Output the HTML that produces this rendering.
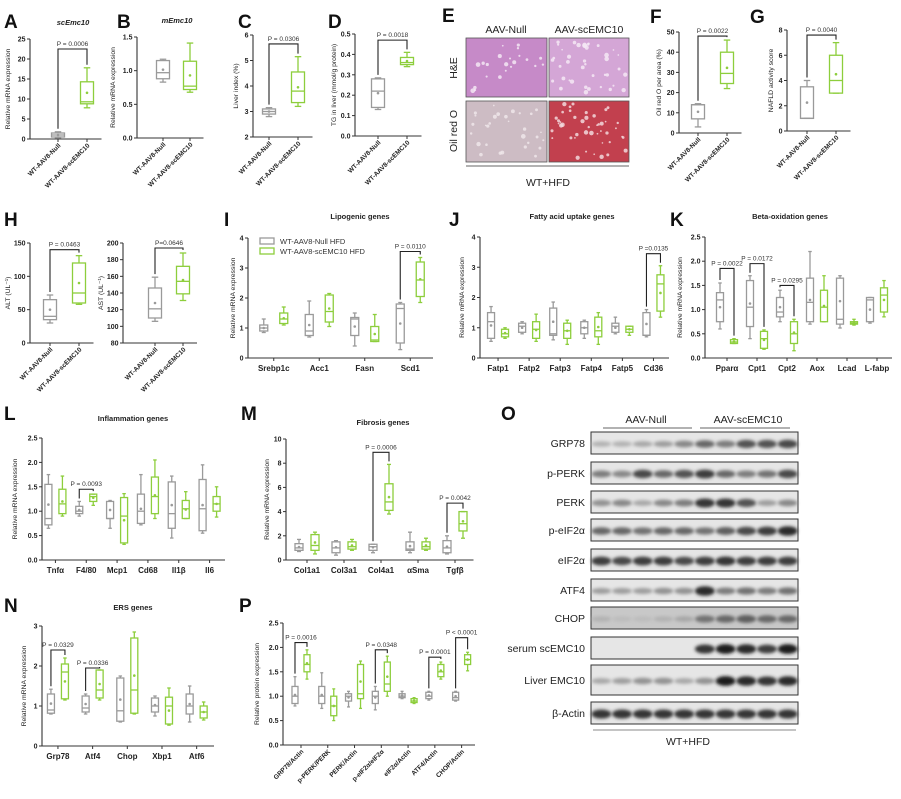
<!DOCTYPE html>
<html><head><meta charset="utf-8">
<style>
html,body{margin:0;padding:0;background:#fff;}
svg{display:block;font-family:"Liberation Sans",Arial,sans-serif;}
</style></head>
<body>
<svg id="fig" width="901" height="799" viewBox="0 0 901 799" xmlns="http://www.w3.org/2000/svg">
<defs>
<filter id="blur1" x="-20%" y="-50%" width="140%" height="200%"><feGaussianBlur stdDeviation="1.6"/></filter>
<filter id="blur0"><feGaussianBlur stdDeviation="0.6"/></filter>
</defs>
<g id="letters" font-weight="bold" font-size="19" fill="#111">
<text x="4" y="28">A</text>
<text x="117" y="28">B</text>
<text x="238" y="28">C</text>
<text x="328" y="28">D</text>
<text x="442" y="22">E</text>
<text x="650" y="23">F</text>
<text x="750" y="23">G</text>
<text x="4" y="226">H</text>
<text x="224" y="226">I</text>
<text x="449" y="226">J</text>
<text x="670" y="226">K</text>
<text x="4" y="420">L</text>
<text x="241" y="420">M</text>
<text x="501" y="420">O</text>
<text x="4" y="612">N</text>
<text x="239" y="612">P</text>
</g>
<g id="histo">
<text x="506" y="33" font-size="10.5" text-anchor="middle" fill="#222">AAV-Null</text>
<text x="589" y="33" font-size="10.5" text-anchor="middle" fill="#222">AAV-scEMC10</text>
<text transform="translate(457,68) rotate(-90)" font-size="10.5" text-anchor="middle" fill="#222">H&amp;E</text>
<text transform="translate(457,131) rotate(-90)" font-size="10.5" text-anchor="middle" fill="#222">Oil red O</text>
<rect x="466" y="38" width="81" height="59" fill="#c68ac8" stroke="#555" stroke-width="0.8"/>
<rect x="549" y="38" width="80" height="59" fill="#d4a6d6" stroke="#555" stroke-width="0.8"/>
<rect x="466" y="101" width="81" height="61" fill="#cdbcc4" stroke="#555" stroke-width="0.8"/>
<rect x="549" y="101" width="80" height="61" fill="#c2404e" stroke="#555" stroke-width="0.8"/>
<g id="tex"></g>
<line x1="466" y1="166" x2="629" y2="166" stroke="#999" stroke-width="1.5"/>
<text x="548" y="186" font-size="10.5" text-anchor="middle" fill="#222">WT+HFD</text>
</g>
<g id="charts"></g>
<g id="blot"></g>
</svg>
<script>
// ---------- chart data (5-number summaries: min, q1, median, q3, max) ----------
const twoGroupCats = ['WT-AAV8-Null','WT-AAV8-scEMC10'];
const aNull = [[0.3,0.5,1.0,1.5,1.8]];
const aEmc  = [[7.8,8.8,9.3,14.3,17.8]];
const bNull = [[0.83,0.88,0.97,1.15,1.17]];
const bEmc  = [[0.68,0.72,0.77,1.14,1.41]];
const cNull = [[2.8,2.9,3.0,3.1,3.15]];
const cEmc  = [[3.2,3.35,3.8,4.55,5.15]];
const dNull = [[0.13,0.14,0.22,0.28,0.285]];
const dEmc  = [[0.34,0.35,0.36,0.385,0.41]];
const fNull = [[3,7,14,14,14.5]];
const fEmc  = [[22,24.5,29.5,40,46]];
const gNull = [[1,1,1,3.5,4]];
const gEmc  = [[3,3,4,6,7]];
const altNull = [[30,35,40,65,72]];
const altEmc  = [[58,60,75,120,131]];
const astNull = [[106,110,121,146,159]];
const astEmc  = [[131,139,154,172,188]];

const iCats = ['Srebp1c','Acc1','Fasn','Scd1'];
const iNull = [[0.85,0.9,1.0,1.1,1.3],[0.7,0.75,0.9,1.45,1.9],[0.4,0.75,1.3,1.35,1.5],[0.28,0.5,1.65,1.8,1.85]];
const iEmc  = [[1.1,1.15,1.3,1.5,1.7],[1.05,1.2,1.55,2.1,2.15],[0.55,0.55,0.6,1.05,1.45],[1.85,2.05,2.6,3.2,3.35]];
const jCats = ['Fatp1','Fatp2','Fatp3','Fatp4','Fatp5','Cd36'];
const jNull = [[0.55,0.65,1.2,1.5,1.7],[0.8,0.85,1.05,1.15,1.2],[0.6,0.75,0.8,1.65,1.85],[0.65,0.8,1.0,1.2,1.25],[0.8,0.85,1.05,1.15,1.35],[0.7,0.75,0.75,1.5,1.6]];
const jEmc  = [[0.65,0.7,0.8,0.95,1.0],[0.55,0.65,0.95,1.2,1.45],[0.45,0.65,0.9,1.15,1.25],[0.45,0.7,0.9,1.35,1.5],[0.75,0.85,0.95,1.05,1.05],[1.35,1.55,2.45,2.75,3.05]];
const kCats = ['Pparα','Cpt1','Cpt2','Aox','Lcad','L-fabp'];
const kNull = [[0.6,0.75,1.2,1.35,1.55],[0.4,0.65,1.05,1.6,1.7],[0.75,0.85,0.95,1.25,1.4],[0.7,0.75,1.15,1.65,2.2],[0.62,0.7,0.8,1.65,1.7],[0.72,0.75,1.2,1.25,1.25]];
const kEmc  = [[0.3,0.3,0.33,0.38,0.4],[0.18,0.2,0.4,0.55,0.58],[0.15,0.3,0.5,0.75,0.8],[0.75,0.75,1.05,1.4,1.7],[0.68,0.7,0.72,0.75,0.8],[0.85,0.95,1.3,1.45,1.6]];
const lCats = ['Tnfα','F4/80','Mcp1','Cd68','Il1β','Il6'];
const lNull = [[0.65,0.72,0.85,1.55,1.75],[0.9,0.95,1.0,1.1,1.2],[0.65,0.85,0.85,1.2,1.22],[0.72,0.75,1.0,1.35,1.75],[0.45,0.65,0.95,1.6,1.72],[0.55,0.6,1.05,1.65,1.95]];
const lEmc  = [[0.9,0.95,1.15,1.45,1.72],[1.12,1.2,1.3,1.35,1.35],[0.32,0.35,0.9,1.28,1.36],[0.85,0.95,1.3,1.7,2.05],[0.85,0.85,1.05,1.22,1.4],[0.88,1.0,1.15,1.3,1.5]];
const mCats = ['Col1a1','Col3a1','Col4a1','αSma','Tgfβ'];
const mNull = [[0.7,0.8,1.0,1.35,1.7],[0.4,0.6,1.0,1.5,1.6],[0.6,0.8,1.1,1.3,1.3],[0.6,0.8,0.9,1.5,2.3],[0.5,0.6,1.0,1.6,2.0]];
const mEmc  = [[0.5,0.8,1.2,2.1,2.3],[0.8,0.9,1.1,1.5,1.7],[3.8,4.1,4.8,6.3,7.9],[0.8,0.9,1.1,1.5,1.8],[1.8,2.4,3.0,4.0,4.0]];
const nCats = ['Grp78','Atf4','Chop','Xbp1','Atf6'];
const nNull = [[0.8,0.82,0.9,1.3,1.42],[0.8,0.85,0.95,1.25,1.3],[0.6,0.62,0.88,1.7,1.75],[0.75,0.85,1.0,1.2,1.25],[0.6,0.8,1.0,1.3,1.5]];
const nEmc  = [[1.15,1.18,1.85,2.05,2.2],[1.15,1.2,1.4,1.9,1.9],[0.8,0.82,1.4,2.7,2.85],[0.52,0.55,1.0,1.22,1.45],[0.65,0.7,0.85,1.0,1.1]];
const pCats = ['GRP78/Actin','p-PERK/PERK','PERK/Actin','p-eIF2α/eIF2α','eIF2α/Actin','ATF4/Actin','CHOP/Actin'];
const pNull = [[0.8,0.85,1.0,1.2,1.4],[0.75,0.85,1.0,1.2,1.48],[0.78,0.9,1.0,1.05,1.1],[0.72,0.85,1.0,1.1,1.2],[0.95,0.97,1.0,1.05,1.1],[0.92,0.95,1.0,1.08,1.1],[0.9,0.92,0.97,1.08,1.1]];
const pEmc  = [[1.35,1.5,1.65,1.85,1.95],[0.5,0.6,0.8,1.0,1.15],[0.75,0.95,1.05,1.65,1.72],[1.0,1.1,1.25,1.7,1.82],[0.85,0.87,0.9,0.95,0.97],[1.35,1.4,1.5,1.65,1.7],[1.52,1.65,1.75,1.85,1.9]];

// tick labels
const aTicks=[0,5,10,15,20,25], bTicks=[0.0,0.5,1.0,1.5], cTicks=[2,3,4,5,6], dTicks=[0.0,0.1,0.2,0.3,0.4,0.5];
const fTicks=[0,10,20,30,40,50], gTicks=[0,2,4,6,8], altTicks=[0,50,100,150], astTicks=[80,100,120,140,160,180,200];
const ijTicks=[0,1,2,3,4], kTicks=[0.0,0.5,1.0,1.5,2.0,2.5], mTicks=[0,2,4,6,8,10], nTicks=[0,1,2,3];

const GRAY='#9a9a9a', GREEN='#8dce3c';
const NS='http://www.w3.org/2000/svg';
const root=document.getElementById('charts');
function mk(tag,attrs,parent){const e=document.createElementNS(NS,tag);for(const k in attrs)e.setAttribute(k,attrs[k]);(parent||root).appendChild(e);return e;}
function txt(s,attrs,parent){const e=mk('text',attrs,parent);e.textContent=s;return e;}

function panel(c){
  const g=mk('g',{});
  
  
  const yMin=c.ticks[0], yMax=c.ticks[c.ticks.length-1];
  const y=v=>c.yBot-(v-yMin)/(yMax-yMin)*(c.yBot-c.yTop);
  const n=c.cats.length, step=(c.xEnd-c.xStart)/n;
  const cx=i=>c.xStart+(i+0.5)*step;
  // axes
  const ya=mk('line',{x1:c.ax,y1:c.yTop,x2:c.ax,y2:c.yBot+0.5,stroke:'#333','stroke-width':1.1},g);
  
  
  const xa=mk('line',{x1:c.ax,y1:c.yBot,x2:c.xEnd,y2:c.yBot,stroke:'#333','stroke-width':1.1},g);
  
  
  c.ticks.forEach(t=>{
    mk('line',{x1:c.ax-3,y1:y(t),x2:c.ax,y2:y(t),stroke:'#333','stroke-width':1},g);
    const tl=txt(c.dec!=null?t.toFixed(c.dec):String(t),{x:c.ax-4.5,y:y(t)+2.5,'font-size':7,'font-weight':'bold','text-anchor':'end',fill:'#222'},g);
    
    
  });
  const mid=(c.yTop+c.yBot)/2;
  const yt=txt(c.ytitle,{transform:`translate(${c.ax-(c.ytOff||20)},${mid}) rotate(-90)`,'font-size':6.8,'text-anchor':'middle',fill:'#222'},g);
  
  
  if(c.title){
    const tt=txt(c.title,{x:c.titleX,y:c.titleY,'font-size':7.5,'font-weight':'bold','font-style':c.italic?'italic':'normal','text-anchor':'middle',fill:'#222'},g);
    
    
  }
  c.cats.forEach((cat,i)=>{
    mk('line',{x1:cx(i),y1:c.yBot,x2:cx(i),y2:c.yBot+3,stroke:'#333','stroke-width':1},g);
    let l;
    if(c.rot){
      l=txt(cat,{transform:`translate(${cx(i)+3},${c.yBot+7}) rotate(-45)`,'font-size':6.5,'font-weight':'bold','text-anchor':'end',fill:'#222'},g);
    } else {
      l=txt(cat,{x:cx(i),y:c.yBot+13,'font-size':8,'font-weight':'bold','text-anchor':'middle',fill:'#222'},g);
    }
    
    
  });
  const two=c.two;
  const bw=c.bw||8, off=c.off||8;
  const pos=(i,s)=> two ? cx(s) : cx(i)+(s?off:-off);
  function box(d,x,col){
    const bg=mk('g',{},g);
    
    
    const sw=1.3;
    mk('line',{x1:x,y1:y(d[4]),x2:x,y2:y(d[3]),stroke:col,'stroke-width':sw},bg);
    mk('line',{x1:x,y1:y(d[1]),x2:x,y2:y(d[0]),stroke:col,'stroke-width':sw},bg);
    mk('line',{x1:x-bw/4,y1:y(d[4]),x2:x+bw/4,y2:y(d[4]),stroke:col,'stroke-width':sw},bg);
    mk('line',{x1:x-bw/4,y1:y(d[0]),x2:x+bw/4,y2:y(d[0]),stroke:col,'stroke-width':sw},bg);
    mk('rect',{x:x-bw/2,y:y(d[3]),width:bw,height:Math.max(0.5,y(d[1])-y(d[3])),fill:'none',stroke:col,'stroke-width':sw},bg);
    mk('line',{x1:x-bw/2,y1:y(d[2]),x2:x+bw/2,y2:y(d[2]),stroke:col,'stroke-width':sw},bg);
    const m=(d[1]+d[3])/2;
    mk('circle',{cx:x,cy:y(m),r:1.3,fill:col},bg);
  }
  c.nul.forEach((d,i)=>box(d,pos(i,0),GRAY));
  c.emc.forEach((d,i)=>box(d,pos(i,1),GREEN));
  (c.sig||[]).forEach(s=>{
    const i=s[0], lvl=s[1], label=s[2];
    const x0=two?cx(0):pos(i,0), x1=two?cx(1):pos(i,1);
    const nd=two?c.nul[0]:c.nul[i], ed=two?c.emc[0]:c.emc[i];
    const bg=mk('g',{},g);
    
    
    mk('polyline',{points:`${x0},${y(nd[4])-3} ${x0},${y(lvl)} ${x1},${y(lvl)} ${x1},${y(ed[4])-3}`,fill:'none',stroke:'#222','stroke-width':1.1},bg);
    txt(label,{x:(x0+x1)/2,y:y(lvl)-3,'font-size':6.5,'text-anchor':'middle',fill:'#333'},bg);
  });
  return g;
}

const R={rot:true,two:true,bw:13};
panel(Object.assign({},R,{name:'chart-a-scemc10',cats:twoGroupCats,nul:aNull,emc:aEmc,ticks:aTicks,ax:30,yTop:39,yBot:139,xStart:43.5,xEnd:101.5,ytitle:'Relative  mRNA expression',title:'scEmc10',italic:true,titleX:73,titleY:25,sig:[[0,22.5,'P = 0.0006']]}));
panel(Object.assign({},R,{name:'chart-b-memc10',cats:twoGroupCats,nul:bNull,emc:bEmc,ticks:bTicks,dec:1,ax:137,yTop:37,yBot:138,xStart:149.5,xEnd:203.5,ytitle:'Relative  mRNA expression',ytOff:22,title:'mEmc10',italic:true,titleX:177,titleY:23}));
panel(Object.assign({},R,{name:'chart-c-liver-index',cats:twoGroupCats,nul:cNull,emc:cEmc,ticks:cTicks,ax:253,yTop:35,yBot:137,xStart:254.5,xEnd:312.5,ytitle:'Liver index (%)',ytOff:15,sig:[[0,5.65,'P = 0.0306']]}));
panel(Object.assign({},R,{name:'chart-d-tg',cats:twoGroupCats,nul:dNull,emc:dEmc,ticks:dTicks,dec:1,ax:355,yTop:34,yBot:136,xStart:363.5,xEnd:421.5,ytitle:'TG in liver (mmol/g protein)',ytOff:19,sig:[[0,0.47,'P = 0.0018']]}));
panel(Object.assign({},R,{name:'chart-f-oil-red',cats:twoGroupCats,nul:fNull,emc:fEmc,ticks:fTicks,ax:679,yTop:32,yBot:133,xStart:683.5,xEnd:741.5,ytitle:'Oil red O per area (%)',ytOff:18,sig:[[0,48,'P = 0.0022']]}));
panel(Object.assign({},R,{name:'chart-g-nafld',cats:twoGroupCats,nul:gNull,emc:gEmc,ticks:gTicks,ax:787,yTop:30,yBot:131,xStart:792.5,xEnd:850.5,ytitle:'NAFLD activity  score',ytOff:14,sig:[[0,7.6,'P = 0.0040']]}));
panel(Object.assign({},R,{name:'chart-h-alt',cats:twoGroupCats,nul:altNull,emc:altEmc,ticks:altTicks,ax:30,yTop:243,yBot:343,xStart:35.5,xEnd:93.5,ytitle:'ALT (UL⁻¹)',ytOff:20,sig:[[0,140,'P = 0.0463']]}));
panel(Object.assign({},R,{name:'chart-h-ast',cats:twoGroupCats,nul:astNull,emc:astEmc,ticks:astTicks,ax:123,yTop:243,yBot:343,xStart:141,xEnd:197,ytitle:'AST (UL⁻¹)',ytOff:20,sig:[[0,194,'P=0.0646']]}));
const I=panel({name:'chart-i-lipogenic',cats:iCats,nul:iNull,emc:iEmc,ticks:ijTicks,ax:248,yTop:238,yBot:358,xStart:251,xEnd:433,ytitle:'Relative mRNA expression',ytOff:13,title:'Lipogenic genes',titleX:360,titleY:219,sig:[[3,3.55,'P = 0.0110']],off:10});
panel({name:'chart-j-fatty-acid',cats:jCats,nul:jNull,emc:jEmc,ticks:ijTicks,ax:480,yTop:237,yBot:358,xStart:482.5,xEnd:669,ytitle:'Relative mRNA expression',ytOff:16,title:'Fatty acid uptake genes',titleX:572,titleY:219,sig:[[5,3.45,'P =0.0135']],off:7,bw:7});
panel({name:'chart-k-beta-oxidation',cats:kCats,nul:kNull,emc:kEmc,ticks:kTicks,dec:1,ax:705,yTop:237,yBot:358,xStart:712,xEnd:892,ytitle:'Relative mRNA expression',ytOff:23,title:'Beta-oxidation genes',titleX:790,titleY:219,sig:[[0,1.85,'P = 0.0022'],[1,1.95,'P = 0.0172'],[2,1.5,'P = 0.0295']],off:7,bw:7});
panel({name:'chart-l-inflammation',cats:lCats,nul:lNull,emc:lEmc,ticks:kTicks,dec:1,ax:42,yTop:438,yBot:560,xStart:40,xEnd:225,ytitle:'Relative mRNA expression',ytOff:25,title:'Inflammation genes',titleX:133,titleY:421,sig:[[1,1.45,'P = 0.0093']],off:7,bw:7});
panel({name:'chart-m-fibrosis',cats:mCats,nul:mNull,emc:mEmc,ticks:mTicks,ax:286,yTop:439,yBot:560,xStart:288.5,xEnd:473.5,ytitle:'Relative  mRNA expression',ytOff:17,title:'Fibrosis genes',titleX:383,titleY:425,sig:[[2,8.9,'P = 0.0006'],[4,4.7,'P = 0.0042']],off:8,bw:8});
panel({name:'chart-n-ers',cats:nCats,nul:nNull,emc:nEmc,ticks:nTicks,ax:42,yTop:626,yBot:746,xStart:40.6,xEnd:214,ytitle:'Relative mRNA expression',ytOff:16,title:'ERS genes',titleX:133,titleY:610,sig:[[0,2.4,'P = 0.0329'],[1,1.95,'P = 0.0336']],off:7,bw:7});
panel({name:'chart-p-protein',cats:pCats,nul:pNull,emc:pEmc,ticks:kTicks,dec:1,rot:true,ax:283,yTop:623,yBot:745,xStart:287.6,xEnd:475,ytitle:'Relative protein expression',ytOff:24,sig:[[0,2.1,'P = 0.0016'],[3,1.95,'P = 0.0348'],[5,1.8,'P = 0.0001'],[6,2.2,'P < 0.0001']],off:6,bw:6});

// legend in panel I
(function(){
  const lg=mk('g',{});
  
  
  const e1=mk('g',{},lg);
  
  
  mk('rect',{x:260,y:238,width:14,height:6,fill:'none',stroke:GRAY,'stroke-width':1.3},e1);
  txt('WT-AAV8-Null HFD',{x:280,y:244,'font-size':7.5,fill:'#333'},e1);
  const e2=mk('g',{},lg);
  
  
  mk('rect',{x:260,y:248,width:14,height:6,fill:'none',stroke:GREEN,'stroke-width':1.3},e2);
  txt('WT-AAV8-scEMC10 HFD',{x:280,y:254,'font-size':7.5,fill:'#333'},e2);
})();

// histology texture
(function(){
  const t=document.getElementById('tex');
  const blobs=[[466,38,81,59,'#f3e6f3',22],[549,38,80,59,'#f4e8f4',40],[466,101,81,61,'#eee6ea',30],[549,101,80,61,'#f2d8dc',45]];
  let s=7;
  const rnd=()=>{s=(s*9301+49297)%233280;return s/233280;};
  blobs.forEach(b=>{
    for(let k=0;k<b[5];k++){
      mk('circle',{cx:b[0]+3+rnd()*(b[2]-6),cy:b[1]+3+rnd()*(b[3]-6),r:0.8+rnd()*1.6,fill:b[4],opacity:0.85},t);
    }
  });
})();

// western blot
(function(){
  const bl=document.getElementById('blot');
  const rows=['GRP78','p-PERK','PERK','p-eIF2α','eIF2α','ATF4','CHOP','serum scEMC10','Liver EMC10','β-Actin'];
  const rowY=[443,473,502,530,560,590,618,648,680,713];
  const rowH=[22,22,22,22,22,22,22,22,30,22];
  // band darkness per lane (10 lanes: 5 null, 5 scEMC10), 0..1
  const inten=[
   [0.25,0.25,0.3,0.35,0.45,0.6,0.5,0.7,0.7,0.75],
   [0.5,0.45,0.75,0.6,0.7,0.8,0.6,0.5,0.55,0.75],
   [0.4,0.45,0.3,0.45,0.5,0.85,0.85,0.7,0.35,0.45],
   [0.6,0.6,0.55,0.6,0.6,0.55,0.65,0.75,0.8,0.9],
   [0.8,0.75,0.8,0.8,0.75,0.8,0.85,0.8,0.8,0.8],
   [0.35,0.35,0.35,0.4,0.4,0.9,0.5,0.55,0.5,0.55],
   [0.25,0.2,0.2,0.25,0.3,0.55,0.6,0.65,0.6,0.6],
   [0,0,0,0,0,0.85,0.95,0.9,0.8,0.95],
   [0.3,0.35,0.4,0.4,0.3,0.4,0.95,0.9,0.85,0.9],
   [0.85,0.85,0.85,0.85,0.85,0.85,0.85,0.85,0.85,0.85]];
  const bx0=591,bx1=798;
  txt('AAV-Null',{x:646,y:423,'font-size':10.5,'text-anchor':'middle',fill:'#222'},bl);
  txt('AAV-scEMC10',{x:748,y:423,'font-size':10.5,'text-anchor':'middle',fill:'#222'},bl);
  mk('line',{x1:603,y1:428,x2:692,y2:428,stroke:'#666','stroke-width':1},bl);
  mk('line',{x1:700,y1:428,x2:790,y2:428,stroke:'#666','stroke-width':1},bl);
  rows.forEach((r,ri)=>{
    const h=rowH[ri], yc=rowY[ri], top=yc-h/2;
    const lab=txt(r,{x:585,y:yc+4,'font-size':10.5,'text-anchor':'end',fill:'#222'},bl);
    
    
    const rg=mk('g',{},bl);
    
    
    mk('rect',{x:bx0,y:top,width:bx1-bx0,height:h,fill:ri===6?'#c8c8c8':'#e6e6e6',stroke:'#333','stroke-width':1},rg);
    const lw=(bx1-bx0)/10;
    inten[ri].forEach((v,li)=>{
      if(v<=0)return;
      const g=Math.round(230-v*210);
      mk('ellipse',{cx:bx0+(li+0.5)*lw,cy:yc+1,rx:lw*0.48,ry:2+v*3,fill:`rgb(${g},${g},${g})`,filter:'url(#blur1)'},rg);
    });
  });
  mk('line',{x1:593,y1:730,x2:796,y2:730,stroke:'#888','stroke-width':1},bl);
  txt('WT+HFD',{x:688,y:745,'font-size':10.5,'text-anchor':'middle',fill:'#222'},bl);
})();
</script>
</body></html>
